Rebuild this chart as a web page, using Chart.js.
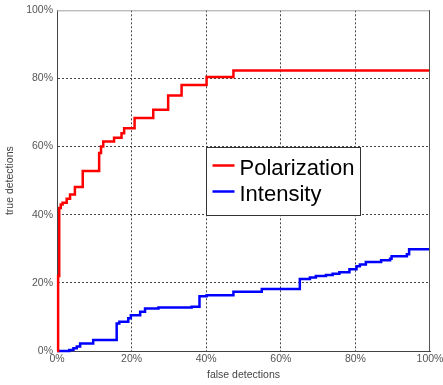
<!DOCTYPE html>
<html>
<head>
<meta charset="utf-8">
<script src="https://cdn.jsdelivr.net/npm/chart.js@4.4.1/dist/chart.umd.min.js"></script>
<style>
  html, body { margin: 0; padding: 0; background: #fff; }
  #wrap { width: 443px; height: 385px; }
</style>
</head>
<body>
<div id="wrap"><canvas id="rocChart" width="443" height="385"></canvas></div>
<script>
// false detections (%) where each curve steps up, and the new true detection level (%)
const polFalse = [0, 0.3, 0.6, 1.0, 1.5, 2.6, 3.5, 4.8, 6.9, 11.3, 11.8, 12.4, 15.3, 17.3, 18.0, 20.8, 25.8, 29.8, 33.4, 40.1, 47.3, 100];
const polTrue  = [0, 22, 42, 43, 43.5, 44.7, 45.9, 48.1, 52.8, 58.1, 60, 61.5, 62.6, 63.9, 65.4, 68.4, 70.8, 75, 78.1, 80.4, 82.3, 82.3];

const intFalse = [0, 3.3, 4.4, 5.3, 6.2, 9.7, 16.0, 16.7, 19.1, 19.8, 22.3, 23.6, 27.2, 36.1, 38.2, 40.1, 47.3, 54.9, 65.1, 67.8, 69.4, 72.1, 73.9, 75.7, 78.4, 80.3, 81.2, 82.8, 86.9, 89.3, 89.7, 93.8, 94.4, 100];
const intTrue  = [0, 0.3, 0.8, 1.3, 2.2, 3.2, 8.1, 8.6, 9.6, 10.5, 11.5, 12.5, 12.8, 13.0, 16.1, 16.4, 17.4, 18.2, 21.1, 21.6, 22.0, 22.3, 22.7, 23.1, 24.0, 24.9, 25.4, 26.1, 26.6, 27.1, 27.8, 28.4, 29.9, 29.9];

const seriesNames = ['Polarization', 'Intensity'];
const seriesColors = ['#ff0000', '#0000ff'];

const toPoints = (xs, ys) => xs.map((x, i) => ({ x: x, y: ys[i] }));

// top/right box lines like the matlab axes
const frame = {
    id: 'frame',
    afterDatasetsDraw(chart) {
        const a = chart.chartArea;
        const ctx = chart.ctx;
        ctx.save();
        ctx.lineWidth = 1;
        ctx.strokeStyle = '#a0a0a0';
        ctx.beginPath();
        ctx.moveTo(a.left, a.top + 0.5);
        ctx.lineTo(a.right, a.top + 0.5);
        ctx.stroke();
        ctx.strokeStyle = '#555';
        ctx.beginPath();
        ctx.moveTo(a.right - 0.5, a.top);
        ctx.lineTo(a.right - 0.5, a.bottom);
        ctx.stroke();
        ctx.restore();
    }
};

// boxed legend sitting inside the plot
const boxLegend = {
    id: 'boxLegend',
    afterDatasetsDraw(chart) {
        const xs = chart.scales.x, ys = chart.scales.y;
        const ctx = chart.ctx;
        const left = Math.round(xs.getPixelForValue(40)) + 0.5;
        const top = Math.round(ys.getPixelForValue(60)) + 0.5;
        const w = 154, h = 68;
        ctx.save();
        ctx.fillStyle = '#fff';
        ctx.fillRect(left, top, w, h);
        ctx.strokeStyle = '#333';
        ctx.lineWidth = 1;
        ctx.strokeRect(left, top, w, h);
        ctx.font = '22px "Liberation Sans", Arial, sans-serif';
        ctx.textBaseline = 'alphabetic';
        seriesNames.forEach((name, i) => {
            const cy = top + 18 + i * 26;
            ctx.strokeStyle = seriesColors[i];
            ctx.lineWidth = 2.5;
            ctx.beginPath();
            ctx.moveTo(left + 6, cy);
            ctx.lineTo(left + 28, cy);
            ctx.stroke();
            ctx.fillStyle = '#000';
            ctx.fillText(name, left + 33, cy + 9);
        });
        ctx.restore();
    }
};

const gridColor = (c) => (c.tick.value === 0 || c.tick.value === 100) ? 'rgba(0,0,0,0)' : '#444';

new Chart(document.getElementById('rocChart'), {
    type: 'line',
    data: {
        datasets: [
            {
                label: seriesNames[0],
                data: toPoints(polFalse, polTrue),
                borderColor: seriesColors[0],
                borderWidth: 2.5,
                stepped: 'before',
                pointRadius: 0,
                fill: false,
                clip: 4
            },
            {
                label: seriesNames[1],
                data: toPoints(intFalse, intTrue),
                borderColor: seriesColors[1],
                borderWidth: 2.5,
                stepped: 'before',
                pointRadius: 0,
                fill: false,
                clip: 4
            }
        ]
    },
    options: {
        responsive: false,
        animation: false,
        layout: { padding: { top: 9, right: 13, left: 0, bottom: 0 } },
        plugins: {
            legend: { display: false },
            tooltip: { enabled: false }
        },
        scales: {
            x: {
                type: 'linear',
                min: 0,
                max: 100,
                afterFit: (s) => { s.height = 34; s.paddingRight = 0; },
                ticks: {
                    stepSize: 20,
                    callback: (v) => v + '%',
                    color: '#555',
                    font: { family: '"Liberation Sans", Arial', size: 10.5 },
                    padding: 2,
                    maxRotation: 0
                },
                grid: { color: gridColor, drawTicks: false, lineWidth: 1 },
                border: { color: '#444', dash: [2, 2] },
                title: {
                    display: true,
                    text: 'false detections',
                    color: '#444',
                    font: { family: '"Liberation Sans", Arial', size: 10.5 },
                    padding: { top: 0, bottom: 4 }
                }
            },
            y: {
                min: 0,
                max: 100,
                afterFit: (s) => { s.width = 57; },
                ticks: {
                    stepSize: 20,
                    callback: (v) => v + '%',
                    color: '#555',
                    font: { family: '"Liberation Sans", Arial', size: 10.5 },
                    padding: 4
                },
                grid: { color: gridColor, drawTicks: false, lineWidth: 1 },
                border: { color: '#444', dash: [2, 2] },
                title: {
                    display: true,
                    text: 'true detections',
                    color: '#444',
                    font: { family: '"Liberation Sans", Arial', size: 10.5 },
                    padding: { top: 4, bottom: 0 }
                }
            }
        }
    },
    plugins: [frame, boxLegend]
});
</script>
</body>
</html>
